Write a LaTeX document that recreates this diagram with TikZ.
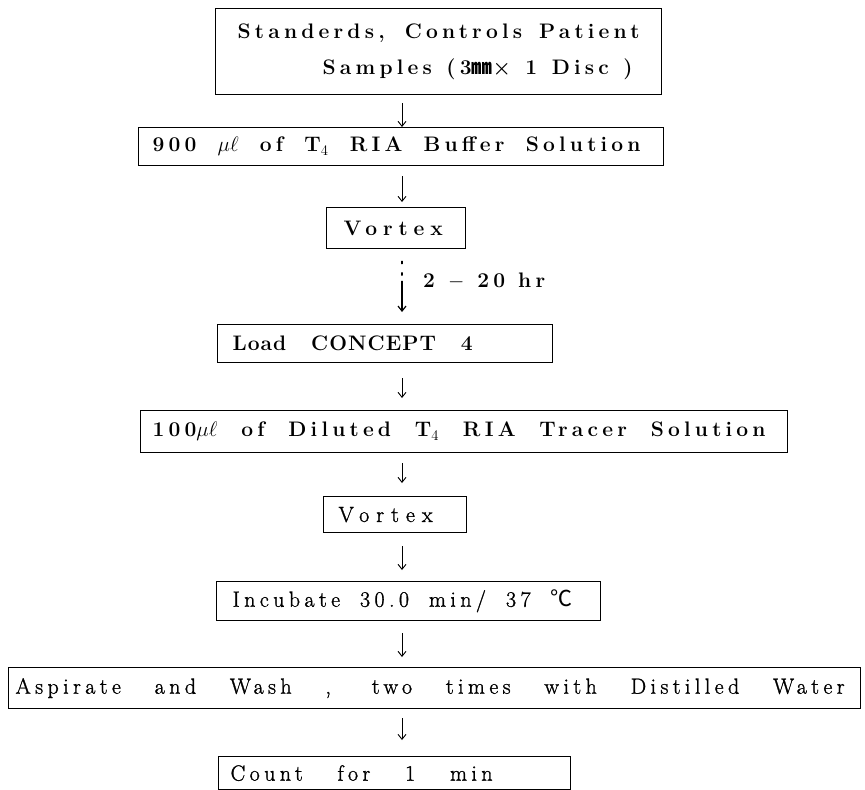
\RequirePackage{fix-cm}
\documentclass[tikz,border=0pt]{standalone}
\RequirePackage{amsmath}
\RequirePackage{fontspec}
\RequirePackage{tikz}
\usetikzlibrary{arrows.meta}
\newfontfamily\stepfont{Latin Modern Roman}[LetterSpace=20]
\newfontfamily\plainfont{Latin Modern Roman}[LetterSpace=20, FakeBold=1.2]
\newfontfamily\cjk{Noto Sans CJK JP}
\newcommand{\spread}[2]{\makebox[#1][s]{\spaceskip=0.25em plus 1fil\relax #2}}

\begin{document}
\begin{tikzpicture}[
    x=1pt, y=-1pt,
    box/.style={draw, line width=1.2pt, anchor=north west, inner ysep=0pt, align=left, font=\stepfont\bfseries\fontsize{21}{36}\selectfont},
    lightbox/.style={box, font=\plainfont\fontsize{22}{26}\selectfont},
    note/.style={anchor=west, inner sep=0pt, font=\stepfont\bfseries\fontsize{21}{24}\selectfont},
    arrow/.style={draw, line width=0.9pt, -{Straight Barb[length=5pt,width=8pt]}}
]
\useasboundingbox (0,0) rectangle (865,790);
\coordinate (spine) at (402,0);
\node [box, text width=402pt, minimum height=86pt, inner xsep=22pt] (samples) at (215,8) {\spread{402pt}{Standerds, Controls Patient}\\\hspace*{85pt}\spread{310pt}{Samples (3{\cjk ㎜}× 1 Disc )}};
\node [box, text width=497pt, minimum height=38pt, inner xsep=14pt] (buffer) at (138,127) {\spread{488pt}{900 $\mu\ell$ of T$_4$ RIA Buffer Solution}};
\node [box, text width=105pt, minimum height=41pt, inner xsep=17pt] (vortexa) at (326,207) {\addfontfeature{LetterSpace=28}Vortex};
\node [note] (hours) at (423,281) {\spread{122pt}{2 $-$ 20 hr}};
\node [box, text width=305pt, minimum height=38pt, inner xsep=15pt] (load) at (217,324) {\addfontfeature{LetterSpace=5}\spread{240pt}{Load CONCEPT 4}};
\node [box, text width=623pt, minimum height=42pt, inner xsep=12pt] (tracer) at (140,410) {\spread{613pt}{100$\mu\ell$ of Diluted T$_4$ RIA Tracer Solution}};
\node [lightbox, text width=113pt, minimum height=36pt, inner xsep=15pt] (vortexb) at (323,496) {\addfontfeature{LetterSpace=32}Vortex};
\node [lightbox, text width=352pt, minimum height=39pt, inner xsep=16pt] (incubate) at (216,581) {\spread{340pt}{Incubate 30.0 min/ 37 {\cjk ℃}}};
\node [lightbox, text width=838pt, minimum height=41pt, inner xsep=7pt] (wash) at (8,667) {\spread{829pt}{Aspirate and Wash , two times with Distilled Water}};
\node [lightbox, text width=328pt, minimum height=33pt, inner xsep=12pt] (count) at (218,756) {\spread{262pt}{Count for 1 min}};
\path [arrow, shorten <=8pt] (samples.south -| spine) -- (buffer.north -| spine);
\path [arrow, shorten <=10pt, shorten >=5pt] (buffer.south -| spine) -- (vortexa.north -| spine);
\path [arrow, line width=1.2pt, line cap=round, dash pattern=on 2.5pt off 9pt on 2.5pt off 6pt on 60pt, shorten <=12pt, shorten >=12pt] (vortexa.south -| spine) -- (load.north -| spine);
\path [arrow, shorten <=15pt, shorten >=12pt] (load.south -| spine) -- (tracer.north -| spine);
\path [arrow, shorten <=10pt, shorten >=13pt] (tracer.south -| spine) -- (vortexb.north -| spine);
\path [arrow, shorten <=13pt, shorten >=11pt] (vortexb.south -| spine) -- (incubate.north -| spine);
\path [arrow, shorten <=12pt, shorten >=10pt] (incubate.south -| spine) -- (wash.north -| spine);
\path [arrow, shorten <=9pt, shorten >=16pt] (wash.south -| spine) -- (count.north -| spine);
\end{tikzpicture}
\end{document}
